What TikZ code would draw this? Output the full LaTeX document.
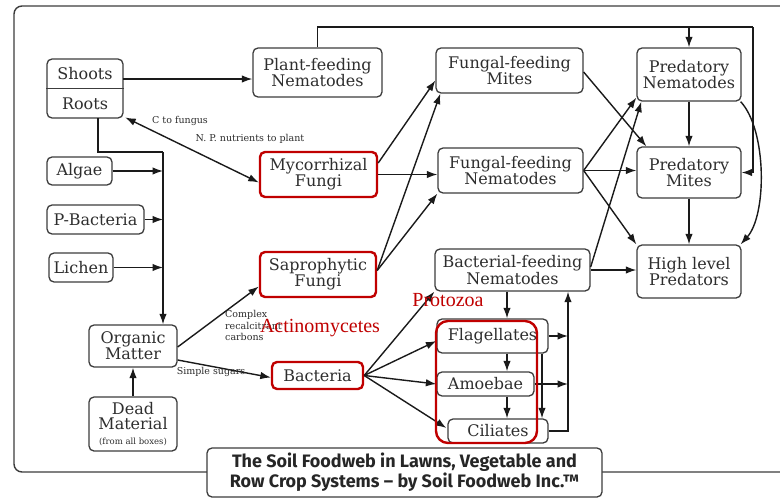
\documentclass[tikz,border=0pt]{standalone}
\usepackage{fontspec}
\setmainfont{DejaVu Serif}
\newfontfamily\titlefont{Fira Sans}
\newfontfamily\redfont{Liberation Serif}
\usetikzlibrary{arrows.meta,calc}
\definecolor{boxgray}{HTML}{3C3C3C}
\definecolor{txt}{HTML}{2E2E2E}
\definecolor{linec}{HTML}{1A1A1A}
\definecolor{redc}{HTML}{C00000}
\newcommand\nodefont{\fontsize{16}{14}\selectfont}
\tikzset{
 box/.style={draw=boxgray, line width=1.3pt, rounded corners=5pt, fill=white, text=txt, inner sep=0pt, align=center, font=\nodefont},
 redbox/.style={box, draw=redc, line width=2.4pt},
 plain/.style={inner sep=0pt, text=txt, align=center, font=\nodefont},
 arr/.style={-{Latex[length=10.5pt,width=7.5pt]}, line width=1.4pt, draw=linec},
 dbl/.style={{Latex[length=10.5pt,width=7.5pt]}-{Latex[length=10.5pt,width=7.5pt]}, line width=1.4pt, draw=linec},
 ln/.style={line width=1.4pt, draw=linec},
 small/.style={font=\fontsize{9.5}{11.5}\selectfont, text=txt, inner sep=0pt},
 redlab/.style={font=\redfont\fontsize{20}{22}\selectfont, text=redc, inner sep=0pt},
}
\begin{document}
\begin{tikzpicture}[x=1pt,y=-1pt]
\useasboundingbox (0,0) rectangle (780,498);
\fill[white] (0,0) rectangle (780,498);
\draw[line width=1.4pt, draw=boxgray, rounded corners=8pt] (14,6) rectangle (800,472);

% nodes
\node[box, minimum width=76pt, minimum height=59pt] (sr) at (85,88.5) {};
\draw[line width=1.3pt, draw=boxgray] (sr.west) -- (sr.east);
\node[plain, minimum width=76pt, minimum height=29.5pt] (shoots) at (85,74) {Shoots};
\node[plain, minimum width=76pt, minimum height=29.5pt] (roots) at (85,103.5) {Roots};
\node[box, minimum width=129pt, minimum height=49pt] (pfn) at (317.5,72.5) {Plant-feeding\\Nematodes};
\node[box, minimum width=147pt, minimum height=45pt] (ffm) at (509.5,70.5) {Fungal-feeding\\Mites};
\node[box, minimum width=145pt, minimum height=45pt] (ffn) at (510.5,170.5) {Fungal-feeding\\Nematodes};
\node[box, minimum width=104pt, minimum height=53pt] (pn) at (689,74.5) {Predatory\\Nematodes};
\node[box, minimum width=104pt, minimum height=51pt] (pm) at (689,172.5) {Predatory\\Mites};
\node[box, minimum width=104pt, minimum height=53pt] (hlp) at (689,271.5) {High level\\Predators};
\node[redbox, minimum width=117pt, minimum height=45pt] (myc) at (318.5,174.5) {Mycorrhizal\\Fungi};
\node[redbox, minimum width=116pt, minimum height=45pt] (sap) at (318,274.5) {Saprophytic\\Fungi};
\node[redbox, minimum width=91pt, minimum height=27pt] (bac) at (317.5,375.5) {Bacteria};
\node[box, minimum width=155pt, minimum height=42pt] (bfn) at (512.5,270) {Bacterial-feeding\\Nematodes};
\node[box, minimum width=111pt, minimum height=34pt] (flag) at (492.5,336) {Flagellates};
\node[box, minimum width=97pt, minimum height=24pt] (amoe) at (485.5,384) {Amoebae};
\node[box, minimum width=100pt, minimum height=24pt] (cil) at (498,431) {Ciliates};
\node[box, minimum width=65pt, minimum height=28pt] (algae) at (79.5,171) {Algae};
\node[box, minimum width=97pt, minimum height=29pt] (pbac) at (95.5,219.5) {P-Bacteria};
\node[box, minimum width=64pt, minimum height=29pt] (lichen) at (81,267.5) {Lichen};
\node[box, minimum width=88pt, minimum height=42pt] (om) at (133,346) {Organic\\Matter};
\node[box, minimum width=88pt, minimum height=54pt, font=\fontsize{16}{15}\selectfont] (dead) at (133,424) {Dead\\Material\\{\fontsize{8.5}{10}\selectfont (from all boxes)}};
\node[box, minimum width=395pt, minimum height=49pt, font=\titlefont\bfseries\fontsize{18}{20}\selectfont, text=black!85] (title) at (404.5,472.5) {The Soil Foodweb in Lawns, Vegetable and\\Row Crop Systems – by Soil Foodweb Inc.™};

% helper coordinates
\coordinate (j1) at (98,152);
\coordinate (bus) at (163,152);
\coordinate (tr) at (753,27);
\coordinate (px) at (507,0);
\coordinate (qx) at (542,0);
\coordinate (rx) at (568,0);

% connectors
\draw[arr] ([yshift=-5pt]shoots.east) -- ([yshift=-5pt]shoots.east -| pfn.west);
\draw[dbl] ([xshift=2pt,yshift=1pt]roots.south east) -- ([yshift=-8pt]myc.west);
\draw[ln] (j1 |- roots.south) -- (j1) -- (bus);
\draw[arr] (bus) -- (om.north -| bus);
\draw[arr] (algae.east) -- (algae.east -| bus);
\draw[arr] (pbac.east) -- (pbac.east -| bus);
\draw[arr] (lichen.east) -- (lichen.east -| bus);
\draw[arr] (dead.north) -- (om.south);
\draw[arr] ([yshift=-1pt]om.east) -- ([yshift=-12pt]sap.west);
\draw[arr] ([yshift=-14pt]om.east) -- ([yshift=-2pt]bac.west);

\draw[ln] (pfn.north) |- (tr);
\draw[arr] (tr) |- (pm.east);
\draw[arr] (pn.north |- tr) -- (pn.north);

\draw[arr] ([yshift=11.5pt]myc.east) -- ([yshift=-10pt]ffm.west);
\draw[arr] (myc.east) -- (myc.east -| ffn.west);
\draw[arr] ([yshift=4pt]sap.east) -- ([xshift=5pt]ffm.south west);
\draw[arr] ([yshift=4pt]sap.east) -- (ffn.south west);

\draw[arr] (bac.east) -- (bfn.south west);
\draw[arr] (bac.east) -- ([yshift=-5pt]flag.west);
\draw[arr] (bac.east) -- (amoe.west);
\draw[arr] (bac.east) -- ([xshift=-1pt,yshift=3pt]cil.west);

\draw[arr] (bfn.south -| px) -- (flag.north -| px);
\draw[arr] (flag.south -| px) -- (amoe.north -| px);
\draw[arr] (amoe.south -| px) -- (cil.north -| px);
\draw[arr] (flag.south -| qx) -- (cil.north -| qx);
\draw[arr] (flag.east) -- (flag.east -| rx);
\draw[arr] (amoe.east) -- (amoe.east -| rx);
\draw[arr] (cil.east) -| (bfn.south -| rx);

\draw[arr] ([yshift=3pt]bfn.east) -- ([xshift=5pt]pn.south west);
\draw[arr] (bfn.east) -- (bfn.east -| hlp.west);
\draw[arr] ([yshift=-1.5pt]ffm.east) -- ([xshift=10pt]pm.north west);
\draw[arr] (ffn.east) -- ([yshift=4pt]pn.south west);
\draw[arr] (ffn.east) -- (ffn.east -| pm.west);
\draw[arr] (ffn.east) -- (hlp.north west);
\draw[arr] (pn.south) -- (pm.north);
\draw[arr] (pm.south) -- (hlp.north);
\draw[arr] ([xshift=-1pt]pn.south east) .. controls (767,130) and (767,215) .. ([xshift=-1pt]hlp.north east);

% labels
\node[small] (lc) at (180,121) {C to fungus};
\node[small] (lnp) at (250,139) {N. P. nutrients to plant};
\node[small, align=left, anchor=west] (lcx) at (225,325.5) {Complex\\recalcitrant\\carbons};
\node[small] (lss) at (211,372) {Simple sugars};

% protozoa group
\draw[draw=redc, line width=2.4pt, rounded corners=12pt] (436,321) rectangle (537,443);
\node[redlab] (proto) at (448,300) {Protozoa};
\node[redlab] (actino) at (320,328) {Actinomycetes};
\end{tikzpicture}
\end{document}
